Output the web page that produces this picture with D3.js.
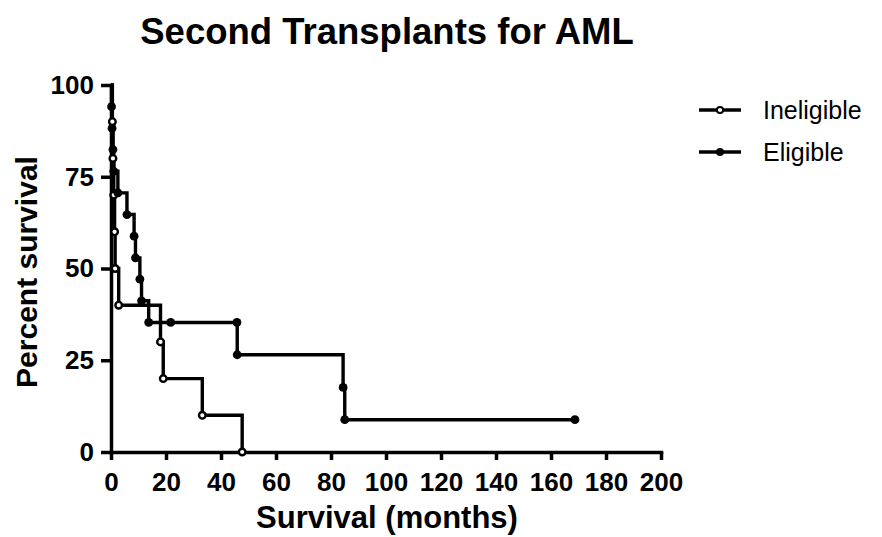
<!DOCTYPE html>
<html>
<head>
<meta charset="utf-8">
<script src="https://cdn.jsdelivr.net/npm/d3@7/dist/d3.min.js"></script>
<style>
  html, body { margin: 0; padding: 0; background: #fff; }
  svg { display: block; font-family: Arial, "Liberation Sans", sans-serif; }
</style>
</head>
<body>
<svg id="chart" width="882" height="537"></svg>
<script>
// Kaplan-Meier survival estimates (percent) at each recorded time (months)
const ineligibleMonths   = [0, 0.5, 0.7, 1.0, 1.3, 1.5, 2.8, 18.0, 19.0, 33.2, 47.7];
const ineligibleSurvival = [100, 90, 80, 70, 60, 50, 40, 30, 20, 10, 0];

const eligibleMonths   = [0, 0.2, 0.4, 0.7, 1.0, 2.5, 5.8, 8.4, 8.9, 10.5, 11.1, 13.7, 21.7, 45.8, 45.9, 84.4, 85.0, 168.7];
const eligibleSurvival = [100, 94.1, 88.2, 82.4, 76.5, 70.6, 64.7, 58.8, 52.9, 47.1, 41.2, 35.3, 35.3, 35.3, 26.5, 17.6, 8.8, 8.8];

const xTicks = [0, 20, 40, 60, 80, 100, 120, 140, 160, 180, 200];
const yTicks = [0, 25, 50, 75, 100];

const seriesNames = ["Ineligible", "Eligible"];

const svg = d3.select("#chart");

const x = d3.scaleLinear().domain([0, 200]).range([111, 661]);
const y = d3.scaleLinear().domain([0, 100]).range([452, 85]);

// Title
svg.append("text")
  .attr("x", 387).attr("y", 44)
  .attr("text-anchor", "middle")
  .style("font-size", "36.5px").style("font-weight", "bold")
  .text("Second Transplants for AML");

// Axes
const xAxis = svg.append("g")
  .attr("transform", `translate(0,${y(0)})`)
  .call(d3.axisBottom(x).tickValues(xTicks).tickSize(8).tickSizeOuter(0).tickPadding(13));

const yAxis = svg.append("g")
  .attr("transform", `translate(${x(0)},0)`)
  .call(d3.axisLeft(y).tickValues(yTicks).tickSize(10).tickSizeOuter(0).tickPadding(7));

[xAxis, yAxis].forEach(g => {
  g.select(".domain").attr("stroke", "#000").attr("stroke-width", 3.5).attr("stroke-linecap", "square");
  g.selectAll(".tick line").attr("stroke", "#000").attr("stroke-width", 3.5);
  g.selectAll(".tick text")
    .attr("fill", "#000")
    .style("font-size", "26px").style("font-weight", "bold")
    .style("font-family", "Arial, 'Liberation Sans', sans-serif");
});

// Axis titles
svg.append("text")
  .attr("x", 387).attr("y", 528)
  .attr("text-anchor", "middle")
  .style("font-size", "31px").style("font-weight", "bold")
  .text("Survival (months)");

svg.append("text")
  .attr("transform", "translate(37,272) rotate(-90)")
  .attr("text-anchor", "middle")
  .style("font-size", "30px").style("font-weight", "bold")
  .text("Percent survival");

// Survival curves
const series = [
  { name: seriesNames[0], months: ineligibleMonths, surv: ineligibleSurvival, filled: false },
  { name: seriesNames[1], months: eligibleMonths, surv: eligibleSurvival, filled: true }
];

const line = d3.line()
  .x(d => x(d[0]))
  .y(d => y(d[1]))
  .curve(d3.curveStepAfter);

series.forEach(s => {
  const pts = s.months.map((m, i) => [m, s.surv[i]]);
  svg.append("path")
    .datum(pts)
    .attr("fill", "none")
    .attr("stroke", "#000")
    .attr("stroke-width", 3.4)
    .attr("d", line);
  s.pts = pts;
});

// Symbols at each event / censoring time: open for Ineligible, filled for Eligible
series.forEach(s => {
  svg.append("g")
    .selectAll("circle")
    .data(s.pts.slice(1))
    .join("circle")
    .attr("cx", d => x(d[0]))
    .attr("cy", d => y(d[1]))
    .attr("r", s.filled ? 4.4 : 3.3)
    .attr("fill", s.filled ? "#000" : "#fff")
    .attr("stroke", "#000")
    .attr("stroke-width", s.filled ? 0 : 2.4);
});

// Legend
const legend = svg.append("g");
series.forEach((s, i) => {
  const ly = 110 + i * 42;
  legend.append("line")
    .attr("x1", 699).attr("x2", 741)
    .attr("y1", ly).attr("y2", ly)
    .attr("stroke", "#000").attr("stroke-width", 3.4);
  legend.append("circle")
    .attr("cx", 720).attr("cy", ly)
    .attr("r", s.filled ? 4 : 3.1)
    .attr("fill", s.filled ? "#000" : "#fff")
    .attr("stroke", "#000")
    .attr("stroke-width", s.filled ? 0 : 2);
  legend.append("text")
    .attr("x", 763).attr("y", ly)
    .attr("dy", "0.35em")
    .style("font-size", "25px")
    .text(s.name);
});
</script>
</body>
</html>
